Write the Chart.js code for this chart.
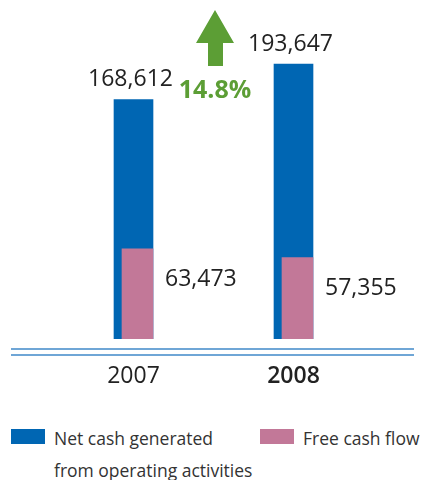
<!DOCTYPE html>
<html>
<head>
<meta charset="utf-8">
<script src="https://cdn.jsdelivr.net/npm/chart.js@4.4.1/dist/chart.umd.min.js"></script>
<style>
  body { margin: 0; background: #fff; font-family: "Open Sans", sans-serif; }
  #wrap { position: relative; width: 422px; height: 480px; }
  #chart { position: absolute; left: 0; top: 0; }
  .item { position: absolute; top: 422px; font-size: 17.5px; line-height: 32px; color: #333; white-space: nowrap; }
  .sw { position: absolute; top: 429px; width: 34px; height: 15px; }
</style>
</head>
<body>
<div id="wrap">
  <canvas id="chart" width="422" height="400"></canvas>
  <div class="sw" style="left:11px;background:#0066b3"></div>
  <div class="item" style="left:54px">Net cash generated<br>from operating activities</div>
  <div class="sw" style="left:260px;background:#c27898"></div>
  <div class="item" style="left:303px">Free cash flow</div>
</div>
<script>
// data
const years = ["2007", "2008"];
const netCash = [168612, 193647];
const freeCash = [63473, 57355];
const growthLabel = "14.8%";

const BLUE = "#0066b3";
const PINK = "#c27898";
const GREEN = "#5c9e35";
const TEXT = "#222";
const FONT = '"Open Sans", sans-serif';

const fmt = (v) => v.toLocaleString("en-US");

// shift free cash bar so it sits flush with the right edge of the blue bar
const shiftPlugin = {
  id: "shift",
  afterDatasetsUpdate(chart) {
    const meta = chart.getDatasetMeta(0);
    meta.data.forEach((el) => { el.x += 4; });
  },
};

const extrasPlugin = {
  id: "extras",
  afterDraw(chart) {
    const { ctx, chartArea } = chart;
    const blue = chart.getDatasetMeta(1).data;
    const pink = chart.getDatasetMeta(0).data;
    ctx.save();

    // value labels
    ctx.font = "23px " + FONT;
    ctx.fillStyle = TEXT;
    ctx.textAlign = "center";
    ctx.textBaseline = "middle";
    blue.forEach((el, i) => {
      ctx.fillText(fmt(netCash[i]), el.x - 3, el.y - 20);
    });
    ctx.textAlign = "left";
    pink.forEach((el, i) => {
      ctx.fillText(fmt(freeCash[i]), el.x + el.width / 2 + 12, el.y + 31);
    });

    // growth arrow + label
    const mx = (blue[0].x + blue[1].x) / 2 + 1.5;
    const top = chartArea.top;
    ctx.fillStyle = GREEN;
    ctx.beginPath();
    ctx.moveTo(mx, top - 45);
    ctx.lineTo(mx + 19, top - 12);
    ctx.lineTo(mx + 8, top - 12);
    ctx.lineTo(mx + 8, top + 11);
    ctx.lineTo(mx - 7, top + 11);
    ctx.lineTo(mx - 7, top - 12);
    ctx.lineTo(mx - 19, top - 12);
    ctx.closePath();
    ctx.fill();
    ctx.font = "bold 25px " + FONT;
    ctx.textAlign = "center";
    ctx.fillText(growthLabel, mx, top + 36);

    // double base line
    ctx.strokeStyle = "#3f88c8";
    ctx.lineWidth = 1.5;
    [10, 16].forEach((d) => {
      const y = chartArea.bottom + d;
      ctx.beginPath();
      ctx.moveTo(11, y);
      ctx.lineTo(414, y);
      ctx.stroke();
    });
    ctx.restore();
  },
};

new Chart(document.getElementById("chart"), {
  type: "bar",
  data: {
    labels: years,
    datasets: [
      {
        label: "Free cash flow",
        data: freeCash,
        backgroundColor: PINK,
        barThickness: 31,
        order: 0,
      },
      {
        label: "Net cash generated from operating activities",
        data: netCash,
        backgroundColor: BLUE,
        barThickness: 39,
        order: 1,
      },
    ],
  },
  options: {
    responsive: false,
    animation: false,
    events: [],
    layout: { padding: { top: 55, left: 53.5, right: 48.5, bottom: 0 } },
    plugins: {
      legend: { display: false },
      tooltip: { enabled: false },
    },
    datasets: { bar: { grouped: false } },
    scales: {
      y: { display: false, min: 0, max: 200000 },
      x: {
        afterFit: (s) => { s.height = 61; },
        grid: { display: false, drawTicks: false },
        border: { display: false },
        ticks: {
          padding: 24,
          color: TEXT,
          font: (c) => ({ family: FONT, size: 23, weight: c.index === 1 ? "600" : "normal" }),
        },
      },
    },
  },
  plugins: [shiftPlugin, extrasPlugin],
});
</script>
</body>
</html>
